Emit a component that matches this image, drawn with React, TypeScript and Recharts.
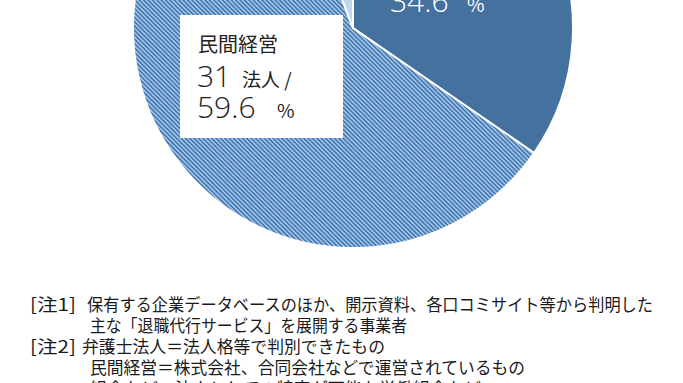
import { PieChart, Pie, Cell } from "recharts";

const categories = ["弁護士法人", "民間経営", "組合など"];
const counts = [18, 31, 3];
const percents = [34.6, 59.6, 5.8];

const noteMarks = ["[注1]", "", "[注2]", "", ""];
const noteLines = [
  "保有する企業データベースのほか、開示資料、各口コミサイト等から判明した",
  "主な「退職代行サービス」を展開する事業者",
  "弁護士法人＝法人格等で判別できたもの",
  "民間経営＝株式会社、合同会社などで運営されているもの",
  "組合など＝法人としての特定が可能な労働組合など",
];

const data = categories.map((name, i) => ({
  name,
  value: counts[i],
  pct: percents[i],
}));

const FONT = '"Noto Sans CJK JP", "Noto Sans", sans-serif';
const NUM_FONT = '"Open Sans", "Noto Sans", sans-serif';
const fills = ["#44719e", "url(#stripes)", "#bdd7ee"];

// layout of the note block
const noteX = [87, 90, 82, 90, 90];
const noteLen = [566, 317, 303, 435, 391];

function SliceLabel(props: any) {
  const { cx, cy, index } = props;
  const d = data[index];
  if (index === 0) {
    return (
      <g fontFamily={FONT} fill="#fff">
        <text x={cx + 37} y={cy - 78} fontSize={20}>{d.name}</text>
        <text y={cy - 47}>
          <tspan x={cx + 37} fontSize={30} fontWeight={300} fontFamily={NUM_FONT}>{d.value}</tspan>
          <tspan x={cx + 81} fontSize={19}>法人 /</tspan>
        </text>
        <text y={cy - 16}>
          <tspan x={cx + 37} fontSize={30} fontWeight={300} fontFamily={NUM_FONT}>{d.pct.toFixed(1)}</tspan>
          <tspan x={cx + 114} fontSize={19}>%</tspan>
        </text>
      </g>
    );
  }
  if (index === 1) {
    return (
      <g fontFamily={FONT} fill="#222">
        <rect x={cx - 173} y={cy - 13} width={163} height={123} fill="#fff" />
        <text x={cx - 155} y={cy + 24} fontSize={20}>{d.name}</text>
        <text y={cy + 59}>
          <tspan x={cx - 156} fontSize={30} fontWeight={300} fontFamily={NUM_FONT}>{d.value}</tspan>
          <tspan x={cx - 111} fontSize={19}>法人 /</tspan>
        </text>
        <text y={cy + 90}>
          <tspan x={cx - 156} fontSize={30} fontWeight={300} fontFamily={NUM_FONT}>{d.pct.toFixed(1)}</tspan>
          <tspan x={cx - 76} fontSize={19}>%</tspan>
        </text>
      </g>
    );
  }
  return (
    <g fontFamily={FONT} fill="#222">
      <text x={cx - 180} y={cy - 150} fontSize={20}>{d.name}</text>
      <text x={cx - 180} y={cy - 120} fontSize={19}>
        {d.value} 法人 / {d.pct.toFixed(1)} %
      </text>
    </g>
  );
}

export default function App() {
  return (
    <div style={{ position: "absolute", left: 0, top: 0, width: 683, height: 383, background: "#fff" }}>
      <PieChart width={683} height={383} margin={{ top: 0, right: 0, bottom: 0, left: 0 }}>
        <defs>
          <pattern
            id="stripes"
            patternUnits="userSpaceOnUse"
            width={3.1}
            height={3.1}
            patternTransform="rotate(45)"
          >
            <rect x={0} y={0} width={3.1} height={3.1} fill="#a2c6ea" />
            <rect x={0} y={0} width={3.1} height={1.6} fill="#4677ae" />
          </pattern>
        </defs>
        <Pie
          data={data}
          dataKey="value"
          nameKey="name"
          cx={353}
          cy={28}
          outerRadius={220}
          startAngle={90}
          endAngle={-270}
          stroke="#fff"
          strokeWidth={2}
          label={SliceLabel}
          labelLine={false}
          isAnimationActive={false}
        >
          {data.map((d, i) => (
            <Cell key={d.name} fill={fills[i]} />
          ))}
        </Pie>
      </PieChart>
      <svg
        width={683}
        height={383}
        style={{ position: "absolute", left: 0, top: 0, pointerEvents: "none" }}
      >
        <g fontFamily={FONT} fontSize={17} fill="#1a1a1a">
          {noteLines.map((line, i) => (
            <g key={i}>
              {noteMarks[i] && (
                <text x={30} y={311 + i * 21} textLength={46} lengthAdjust="spacingAndGlyphs">
                  {noteMarks[i]}
                </text>
              )}
              <text
                x={noteX[i]}
                y={311 + i * 21}
                textLength={noteLen[i]}
                lengthAdjust="spacingAndGlyphs"
              >
                {line}
              </text>
            </g>
          ))}
        </g>
      </svg>
    </div>
  );
}
